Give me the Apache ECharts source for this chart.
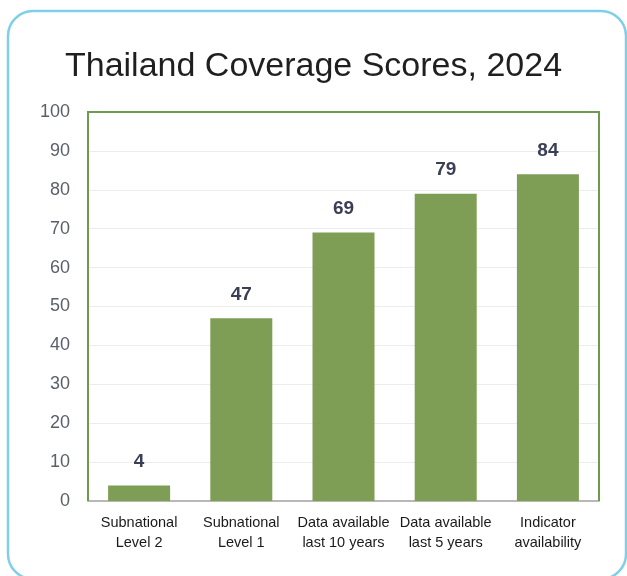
<!DOCTYPE html>
<html>
<head>
<meta charset="utf-8">
<script src="https://cdn.jsdelivr.net/npm/echarts@6/dist/echarts.min.js"></script>
<style>
  html, body { margin: 0; padding: 0; background: #fff; }
  #chart { width: 627px; height: 576px; }
</style>
</head>
<body>
<div id="chart"></div>
<script>
const categories = [
  'Subnational\nLevel 2',
  'Subnational\nLevel 1',
  'Data available\nlast 10 years',
  'Data available\nlast 5 years',
  'Indicator\navailability'
];
const scores = [4, 47, 69, 79, 84];

const chart = echarts.init(document.getElementById('chart'));

chart.setOption({
  animation: false,
  title: {
    text: 'Thailand Coverage Scores, 2024',
    left: 'center',
    top: 45,
    textStyle: {
      fontFamily: 'Liberation Sans, Arial, sans-serif',
      fontSize: 34,
      fontWeight: 'normal',
      color: '#1f1f1f'
    }
  },
  graphic: [
    {
      type: 'rect',
      silent: true,
      z: 100,
      shape: { x: 8, y: 11, width: 618, height: 568, r: 25 },
      style: { fill: 'none', stroke: '#7fcfe8', lineWidth: 2.5 }
    },
    {
      // plot area frame (green on left/top/right)
      type: 'polyline',
      silent: true,
      z: 100,
      shape: { points: [[88, 501], [88, 112], [599, 112], [599, 501]] },
      style: { fill: 'none', stroke: '#6f9a4c', lineWidth: 2 }
    }
  ],
  grid: {
    left: 88,
    right: 28,
    top: 112,
    bottom: 75
  },
  xAxis: {
    type: 'category',
    data: categories,
    axisTick: { show: false },
    axisLine: { lineStyle: { color: '#b8b8b8', width: 2 } },
    axisLabel: {
      interval: 0,
      margin: 12,
      lineHeight: 20,
      fontFamily: 'Liberation Sans, Arial, sans-serif',
      fontSize: 14.5,
      color: '#1a1a1a'
    }
  },
  yAxis: {
    type: 'value',
    min: 0,
    max: 100,
    interval: 10,
    axisLine: { show: false },
    axisTick: { show: false },
    splitLine: { lineStyle: { color: '#ececec', width: 1 } },
    axisLabel: {
      margin: 18,
      fontFamily: 'Liberation Sans, Arial, sans-serif',
      fontSize: 18,
      color: '#5a5f6a'
    }
  },
  series: [
    {
      type: 'bar',
      data: scores,
      barWidth: 62,
      itemStyle: { color: '#7e9d55' },
      label: {
        show: true,
        position: 'top',
        distance: 14,
        fontFamily: 'Liberation Sans, Arial, sans-serif',
        fontSize: 19,
        fontWeight: 'bold',
        color: '#3b3f55'
      }
    }
  ]
});
</script>
</body>
</html>
